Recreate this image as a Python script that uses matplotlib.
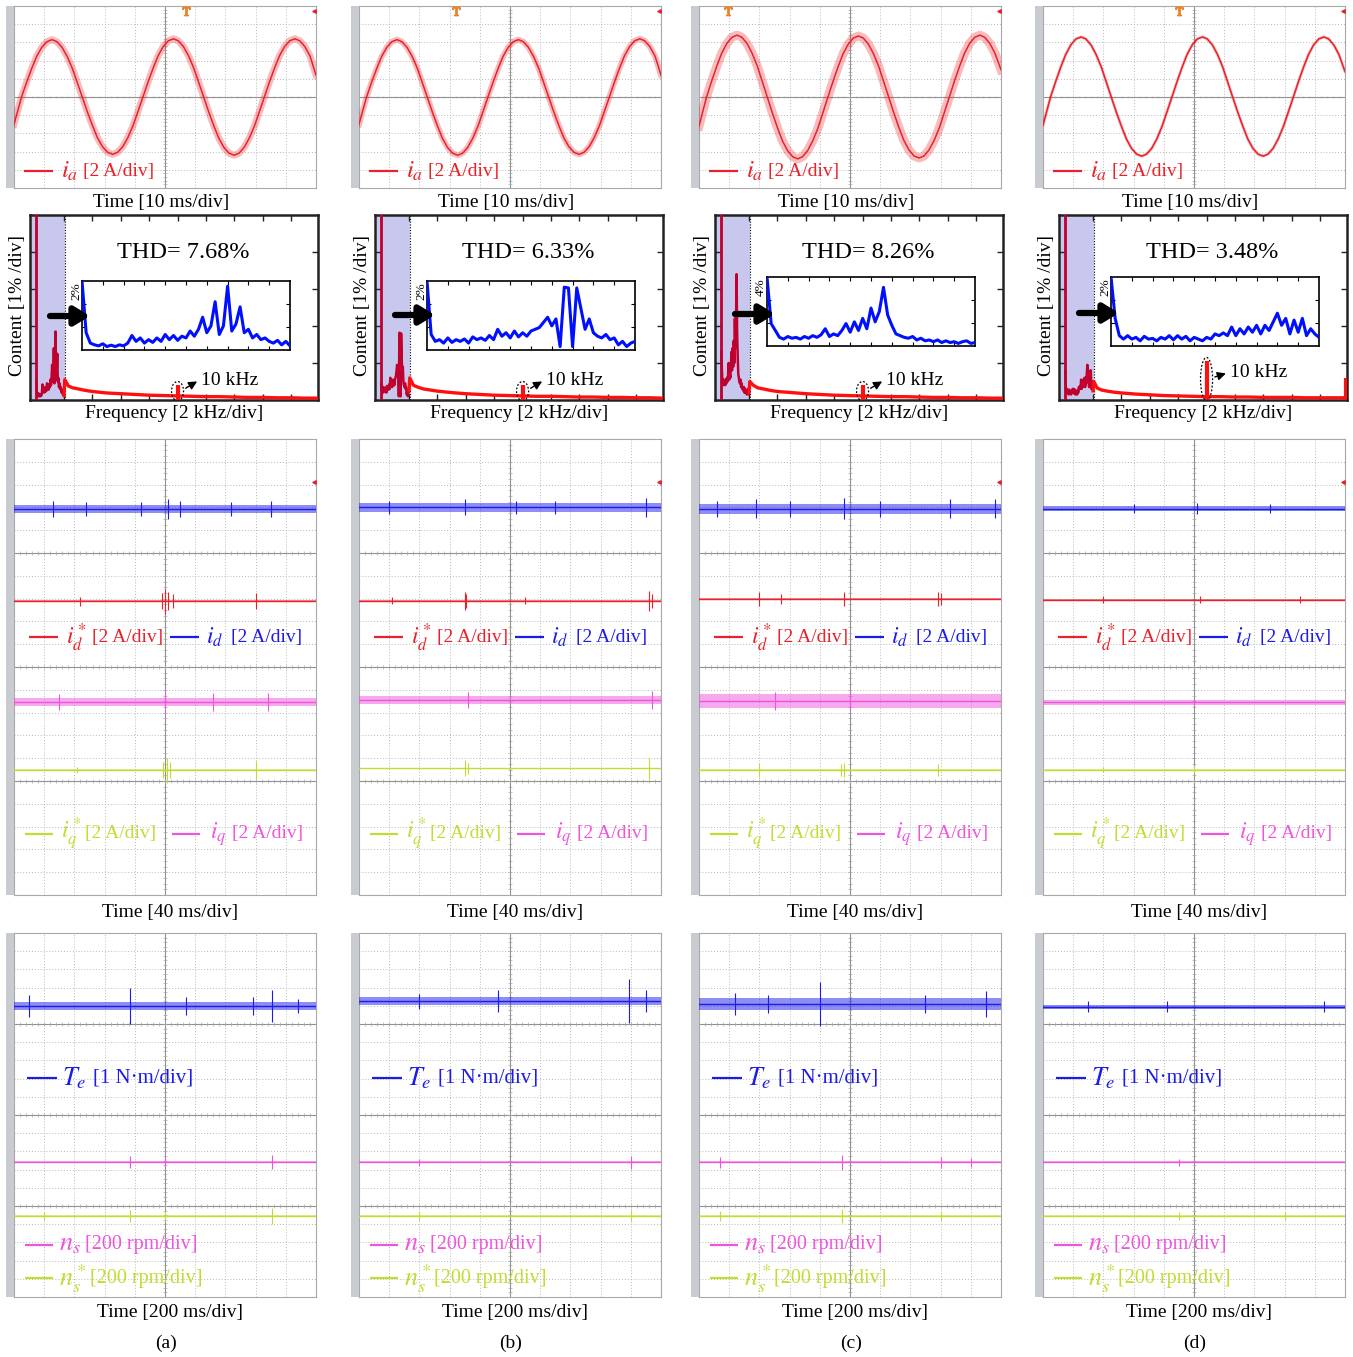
import matplotlib
matplotlib.use('Agg')
import matplotlib.pyplot as plt
from matplotlib.patches import Rectangle, Ellipse
import numpy as np

plt.rcParams['font.family'] = ['Liberation Serif', 'DejaVu Serif']
plt.rcParams['mathtext.fontset'] = 'stix'

W, H = 1353, 1357
fig = plt.figure(figsize=(W / 100, H / 100), dpi=100)
fig.patch.set_facecolor('white')

# ---------------- data ----------------
panel_labels = ['(a)', '(b)', '(c)', '(d)']
thd_values = ['7.68', '6.33', '8.26', '3.48']
inset_top_pct = [2, 2, 4, 2]

# phase current ia [div] read along time [div]
ia_t = [0, 0.25, 0.42, 0.59, 0.75, 0.92, 1.09, 1.26, 1.42, 1.59, 1.76, 1.93, 2.09, 2.26,
        2.43, 2.6, 2.76, 2.93, 3.1, 3.27, 3.43, 3.6, 3.77, 3.94, 4.1, 4.27, 4.44, 4.61,
        4.77, 4.94, 5.11, 5.28, 5.44, 5.61, 5.78, 5.95, 6.11, 6.28, 6.45, 6.62, 6.78,
        6.95, 7.12, 7.29, 7.45, 7.62, 7.79, 7.96, 8.12, 8.29, 8.46, 8.63, 8.79, 8.96,
        9.13, 9.3, 9.46, 9.63, 9.8, 10.0]
ia_a = [-1.5, 0, 0.82, 1.58, 2.23, 2.73, 3.04, 3.15, 3.04, 2.73, 2.23, 1.58, 0.82, 0,
        -0.82, -1.58, -2.23, -2.73, -3.04, -3.15, -3.04, -2.73, -2.23, -1.58, -0.82, 0,
        0.83, 1.6, 2.26, 2.77, 3.09, 3.2, 3.09, 2.77, 2.26, 1.6, 0.83, 0, -0.83, -1.6,
        -2.26, -2.77, -3.09, -3.2, -3.09, -2.77, -2.26, -1.6, -0.83, 0, 0.83, 1.6, 2.26,
        2.77, 3.09, 3.2, 3.09, 2.77, 2.26, 1.2]
ia_b = [-1.5, 0, 0.82, 1.58, 2.23, 2.73, 3.04, 3.15, 3.04, 2.73, 2.23, 1.58, 0.82, 0,
        -0.83, -1.6, -2.26, -2.77, -3.09, -3.2, -3.09, -2.77, -2.26, -1.6, -0.83, 0,
        0.82, 1.58, 2.23, 2.73, 3.04, 3.15, 3.04, 2.73, 2.23, 1.58, 0.82, 0, -0.82, -1.58,
        -2.23, -2.73, -3.04, -3.15, -3.04, -2.73, -2.23, -1.58, -0.82, 0, 0.83, 1.6, 2.26,
        2.77, 3.09, 3.2, 3.09, 2.77, 2.26, 1.2]
ia_c = [-1.6, 0, 0.88, 1.7, 2.4, 2.94, 3.28, 3.4, 3.28, 2.94, 2.4, 1.7, 0.88, 0,
        -0.88, -1.7, -2.4, -2.94, -3.28, -3.4, -3.28, -2.94, -2.4, -1.7, -0.88, 0,
        0.87, 1.68, 2.37, 2.9, 3.24, 3.35, 3.24, 2.9, 2.37, 1.68, 0.87, 0, -0.87, -1.68,
        -2.37, -2.9, -3.24, -3.35, -3.24, -2.9, -2.37, -1.68, -0.87, 0, 0.88, 1.7, 2.4,
        2.94, 3.28, 3.4, 3.28, 2.94, 2.4, 1.5]
ia_d = [-1.55, 0, 0.85, 1.65, 2.33, 2.86, 3.19, 3.3, 3.19, 2.86, 2.33, 1.65, 0.85, 0,
        -0.84, -1.62, -2.3, -2.82, -3.14, -3.25, -3.14, -2.82, -2.3, -1.62, -0.84, 0,
        0.85, 1.65, 2.33, 2.86, 3.19, 3.3, 3.19, 2.86, 2.33, 1.65, 0.85, 0, -0.84, -1.62,
        -2.3, -2.82, -3.14, -3.25, -3.14, -2.82, -2.3, -1.62, -0.84, 0, 0.85, 1.65, 2.33,
        2.86, 3.19, 3.3, 3.19, 2.86, 2.33, 1.4]
ia_cols = [ia_a, ia_b, ia_c, ia_d]
ia_ripple_px = [7, 6, 9, 3]

# harmonic spectrum 0-2 kHz (inset, %), 0.04 kHz bins
inset_a = [2.0, 0.5, 0.2, 0.15, 0.12, 0.18, 0.1, 0.14, 0.1, 0.15, 0.12, 0.2, 0.42, 0.25,
           0.35, 0.2, 0.3, 0.22, 0.35, 0.25, 0.45, 0.3, 0.42, 0.28, 0.4, 0.35, 0.55,
           0.4, 0.6, 0.95, 0.5, 0.7, 1.4, 0.45, 0.7, 1.85, 0.55, 0.75, 1.25, 0.5, 0.6,
           0.35, 0.45, 0.3, 0.35, 0.25, 0.2, 0.28, 0.15, 0.25, 0.12]
inset_b = [2.0, 0.45, 0.25, 0.3, 0.2, 0.35, 0.22, 0.3, 0.25, 0.32, 0.2, 0.38, 0.3, 0.35,
           0.28, 0.42, 0.3, 0.6, 0.4, 0.5, 0.35, 0.55, 0.38, 0.5, 0.4, 0.55, 0.6, 0.65,
           0.8, 0.95, 0.7, 0.9, 0.1, 1.82, 1.8, 0.1, 1.8, 1.2, 0.6, 0.9, 0.5, 0.4, 0.35,
           0.45, 0.3, 0.35, 0.15, 0.25, 0.1, 0.2, 0.25]
inset_c = [4.0, 1.3, 0.9, 0.5, 0.4, 0.55, 0.45, 0.5, 0.4, 0.55, 0.45, 0.6, 0.5, 0.65,
           1.0, 0.55, 0.7, 0.6, 0.9, 1.3, 0.8, 1.4, 0.9, 1.6, 1.0, 2.2, 1.4, 2.0, 3.4,
           1.8, 1.2, 0.7, 0.6, 0.5, 0.45, 0.55, 0.35, 0.45, 0.3, 0.35, 0.25, 0.35, 0.2,
           0.3, 0.2, 0.25, 0.15, 0.25, 0.3, 0.15, 0.2]
inset_d = [2.0, 0.8, 0.3, 0.2, 0.3, 0.2, 0.25, 0.15, 0.28, 0.2, 0.22, 0.15, 0.25, 0.2,
           0.3, 0.18, 0.3, 0.2, 0.28, 0.15, 0.25, 0.2, 0.15, 0.25, 0.2, 0.35, 0.3, 0.38,
           0.3, 0.55, 0.3, 0.5, 0.35, 0.55, 0.4, 0.6, 0.35, 0.6, 0.45, 0.7, 0.95, 0.6,
           0.8, 0.35, 0.75, 0.4, 0.8, 0.3, 0.5, 0.35, 0.25]
inset_cols = [inset_a, inset_b, inset_c, inset_d]
inset_f = np.arange(len(inset_a)) * 0.04  # kHz bins

# spectrum beyond 2 kHz (%)
tail_f = [2.05, 2.3, 2.6, 3, 3.5, 4, 5, 6, 7, 8, 9, 10, 11, 12, 13, 14, 15, 16, 17, 18, 19, 19.9]
tail_a = [0.55, 0.38, 0.33, 0.3, 0.26, 0.23, 0.19, 0.17, 0.15, 0.13, 0.12, 0.11, 0.1, 0.09,
          0.09, 0.08, 0.07, 0.07, 0.06, 0.06, 0.05, 0.05]
tail_b = [0.6, 0.4, 0.35, 0.3, 0.27, 0.24, 0.2, 0.17, 0.15, 0.13, 0.12, 0.11, 0.1, 0.1,
          0.09, 0.08, 0.08, 0.07, 0.07, 0.06, 0.06, 0.05]
tail_c = [0.5, 0.4, 0.33, 0.3, 0.26, 0.23, 0.2, 0.17, 0.15, 0.13, 0.12, 0.11, 0.1, 0.09,
          0.09, 0.08, 0.07, 0.07, 0.06, 0.06, 0.05, 0.05]
tail_d = [0.5, 0.32, 0.27, 0.24, 0.21, 0.19, 0.16, 0.14, 0.12, 0.11, 0.1, 0.09, 0.09, 0.08,
          0.08, 0.07, 0.07, 0.07, 0.06, 0.06, 0.06, 0.06]
tail_cols = [tail_a, tail_b, tail_c, tail_d]
fundamental_pct = 100.0
switch_spikes = [[(10.0, 0.4)], [(10.0, 0.4)], [(10.0, 0.4)], [(10.0, 1.05), (19.85, 0.6)]]

# dq currents, torque, speed: levels [div], noise half-band [div], spikes (x, amp) [div]
id_level = [6.93, 7.0, 6.95, 6.95]
idref_level = [2.89, 2.9, 2.98, 2.95]
iq_level = [-1.53, -1.45, -1.5, -1.55]
iqref_level = [-4.52, -4.45, -4.52, -4.5]
id_noise = [0.18, 0.18, 0.22, 0.09]
iq_noise = [0.18, 0.16, 0.3, 0.1]
ref_noise = [0.04, 0.04, 0.04, 0.04]
id_spikes = [[(1.3, 0.35), (2.4, 0.3), (4.2, 0.3), (5.1, 0.45), (5.5, 0.35), (7.2, 0.3), (8.5, 0.35)],
             [(1.0, 0.3), (3.5, 0.35), (5.2, 0.3), (6.5, 0.3), (9.5, 0.4)],
             [(0.6, 0.35), (1.9, 0.4), (3.0, 0.35), (4.8, 0.45), (6.0, 0.35), (8.3, 0.4), (9.8, 0.4)],
             [(3.0, 0.2), (5.1, 0.25), (7.5, 0.2)]]
idref_spikes = [[(2.2, 0.2), (4.9, 0.35), (5.0, 0.55), (5.1, 0.4), (5.25, 0.3), (8.0, 0.35)],
                [(1.1, 0.15), (3.5, 0.4), (3.55, 0.3), (5.5, 0.15), (9.6, 0.45), (9.7, 0.3)],
                [(2.0, 0.3), (2.7, 0.2), (4.8, 0.3), (7.9, 0.3), (8.0, 0.25)],
                [(2.0, 0.15), (5.2, 0.15), (8.5, 0.15)]]
iq_spikes = [[(1.5, 0.35), (5.0, 0.45), (6.6, 0.4), (8.4, 0.4)],
             [(3.6, 0.35), (9.7, 0.4)],
             [(2.5, 0.4), (5.0, 0.4)],
             [(5.0, 0.2)]]
iqref_spikes = [[(2.1, 0.15), (4.95, 0.35), (5.05, 0.55), (5.15, 0.35), (8.0, 0.4)],
                [(3.5, 0.35), (3.6, 0.25), (9.6, 0.45)],
                [(2.0, 0.3), (4.7, 0.25), (4.8, 0.3), (7.9, 0.25)],
                [(2.0, 0.12), (5.0, 0.15)]]
te_level = [5.99, 6.25, 6.1, 5.95]
ns_level = [-2.58, -2.6, -2.6, -2.6]
nsref_level = [-5.55, -5.55, -5.55, -5.55]
te_noise = [0.2, 0.22, 0.32, 0.12]
ns_noise = [0.05, 0.05, 0.05, 0.05]
te_spikes = [[(0.5, 0.6), (3.85, 1.0), (5.7, 0.5), (7.9, 0.5), (8.55, 0.9), (9.4, 0.4)],
             [(2.0, 0.4), (4.6, 0.6), (8.95, 1.2), (9.5, 0.6)],
             [(1.2, 0.6), (2.3, 0.5), (4.0, 1.2), (7.5, 0.5), (9.5, 0.7)],
             [(1.5, 0.3), (4.1, 0.3), (9.3, 0.3)]]
ns_spikes = [[(3.85, 0.35), (5.0, 0.25), (8.55, 0.4)],
             [(2.0, 0.2), (9.0, 0.35)],
             [(0.7, 0.3), (4.75, 0.4), (8.0, 0.3), (9.0, 0.25)],
             [(4.5, 0.2)]]
nsref_spikes = [[(1.0, 0.2), (3.85, 0.35), (5.0, 0.3), (8.55, 0.45)],
                [(2.0, 0.25), (9.0, 0.35)],
                [(0.7, 0.3), (4.75, 0.4), (8.0, 0.3)],
                [(4.5, 0.2), (8.0, 0.2)]]
trigger_pos = [5.7, 3.2, 0.97, 4.5]

# ---------------- styles ----------------
RED = '#e8222a'
BLUE = '#1c1ce8'
PINK = '#ee55dd'
YEL = '#c2dc32'
SPEC_RED = '#ff1010'
CRIMSON = '#c0002e'
SHADE = '#c8c8ee'
GRID = '#b8b8b8'
CENTER = '#909090'

col_left = [6, 351, 691, 1035]
PX_PT = 0.72


def px_axes(x0, y0, x1, y1):
    return fig.add_axes([x0 / W, 1 - y1 / H, (x1 - x0) / W, (y1 - y0) / H])


def ftext(x, y, s, **kw):
    fig.text(x / W, 1 - y / H, s, **kw)


def scope(x0, y0, x1, y1, ndiv_y, solid_y):
    fig.add_artist(Rectangle((x0 / W, 1 - y1 / H), 8 / W, (y1 - y0) / H,
                             transform=fig.transFigure, facecolor='#c8ccd0',
                             edgecolor='none', zorder=0.5))
    ax = px_axes(x0 + 8, y0, x1, y1)
    ax.set_xlim(0, 10)
    ax.set_ylim(-ndiv_y / 2, ndiv_y / 2)
    ax.set_xticks([])
    ax.set_yticks([])
    for s in ax.spines.values():
        s.set_color('#a8a8a8')
        s.set_linewidth(0.8)
    for i in range(1, 10):
        if i == 5:
            ax.axvline(i, color=CENTER, lw=0.8, zorder=1)
        else:
            ax.axvline(i, color=GRID, lw=0.7, ls=(0, (1, 2)), zorder=1)
    for j in range(-ndiv_y // 2 + 1, ndiv_y // 2):
        if j in solid_y:
            ax.axhline(j, color=CENTER, lw=0.8, zorder=1)
        else:
            ax.axhline(j, color=GRID, lw=0.7, ls=(0, (1, 2)), zorder=1)
    mx = np.arange(0, 10.01, 0.2)
    for yc in solid_y:
        ax.vlines(mx, yc - 0.05 * ndiv_y / 10, yc + 0.05 * ndiv_y / 10, color='#a8a8a8',
                  lw=0.5, zorder=1)
    my = np.arange(-ndiv_y / 2, ndiv_y / 2 + 0.01, 0.2 if ndiv_y == 10 else 0.25)
    ax.hlines(my, 4.93, 5.07, color='#a8a8a8', lw=0.5, zorder=1)
    return ax


def flat_trace(ax, level, noise, spikes, color, lw_core=1.0):
    ax.axhspan(level - noise, level + noise, color=color, alpha=0.5, lw=0, zorder=3)
    ax.axhline(level, color=color, lw=lw_core, zorder=4)
    if spikes:
        xs = [p[0] for p in spikes]
        am = np.array([p[1] for p in spikes])
        ax.vlines(xs, level - am, level + am, color=color, lw=0.8, zorder=4)


def legend_item(ax, x_line, y, color, sym, sym_x, txt, txt_x, sym_size=17, txt_size=14):
    ax.plot(x_line, [y, y], color=color, lw=1.6, zorder=5, solid_capstyle='butt')
    ax.text(sym_x, y, sym, color=color, fontsize=sym_size, va='center', ha='left', zorder=6)
    ax.text(txt_x, y, txt, color=color, fontsize=txt_size, va='center', ha='left', zorder=6)


for c in range(4):
    L = col_left[c]

    # ---------- row 1: phase current ----------
    ax = scope(L, 6, L + 310, 188, 10, [0])
    ax.plot(ia_t, ia_cols[c], color=RED, lw=ia_ripple_px[c] * PX_PT, alpha=0.3,
            solid_joinstyle='round', zorder=3)
    ax.plot(ia_t, ia_cols[c], color=RED, lw=1.1, zorder=4, solid_joinstyle='round')
    legend_item(ax, [0.33, 1.29], -4.07, RED, r'$i_a$', 1.55, '[2 A/div]', 2.27,
                sym_size=18, txt_size=14)
    ax.plot([trigger_pos[c]], [4.75], marker='$\\mathrm{T}$', color='#f08020', ms=6,
            clip_on=False, zorder=6)
    ax.plot([9.95], [4.7], marker='<', color=RED, ms=2.5, clip_on=False, zorder=6)
    ax.plot([-0.12], [0], marker='>', color=RED, ms=3, clip_on=False, zorder=6)
    ftext(L + 155, 202, 'Time [10 ms/div]', fontsize=14, ha='center', va='center')

    # ---------- row 2: spectrum ----------
    sx = px_axes(L + 24, 215, L + 312, 400)
    sx.set_xlim(-0.4, 19.9)
    sx.set_ylim(0, 5)
    sx.axvspan(-0.4, 2.05, color=SHADE, lw=0, zorder=0)
    sx.axvline(2.05, color='k', lw=0.8, ls=(0, (1, 1.5)), zorder=1)
    sx.vlines([0.0], 0, fundamental_pct, color=CRIMSON, lw=2, zorder=3)
    sx.plot(inset_f[1:], inset_cols[c][1:], color=CRIMSON, lw=1.8, zorder=3)
    sx.plot(np.concatenate([inset_f[-1:], tail_f]),
            np.concatenate([inset_cols[c][-1:], tail_cols[c]]),
            color=SPEC_RED, lw=2.4, zorder=3)
    for (fs, hs) in switch_spikes[c]:
        sx.vlines([fs], 0, hs, color=SPEC_RED, lw=3, zorder=3)
    fsw, hsw = switch_spikes[c][0]
    sx.add_patch(Ellipse((fsw, hsw / 2 + 0.04), 0.85, hsw + 0.12, fill=False, ec='k',
                         lw=0.9, ls=(0, (1.5, 1.5)), zorder=4))
    ty = hsw + 0.14 if c < 3 else 0.74
    sx.annotate('', xy=(11.55, ty), xytext=(10.4, hsw * 0.7 if c < 3 else 0.6),
                arrowprops=dict(arrowstyle='-|>,head_length=0.5,head_width=0.25',
                                color='k', lw=1.0), zorder=5)
    sx.text(11.65, ty, '10 kHz', fontsize=14, ha='left', va='center', zorder=5)
    sx.set_xticks(np.arange(0, 19, 2))
    sx.set_yticks([1, 2, 3, 4])
    sx.tick_params(direction='in', length=4, width=1.0, top=True, right=True,
                   labelbottom=False, labelleft=False, color='#222222')
    for s in sx.spines.values():
        s.set_linewidth(1.8)
        s.set_color('#222222')
    ftext(L + 177, 253, 'THD= ' + thd_values[c] + '%', fontsize=17.5, ha='center', va='center')
    ftext(L + 11.5, 305, 'Content [1% /div]', fontsize=14, rotation=90, ha='center', va='center')
    ftext(L + 168, 413, 'Frequency [2 kHz/div]', fontsize=14, ha='center', va='center')

    # inset
    ins_y0 = 281 if c < 2 else 277
    ix = px_axes(L + 76, ins_y0, L + 284, ins_y0 + 69)
    ix.plot(inset_f, inset_cols[c], color='#0010ff', lw=2.2, zorder=3)
    ix.set_xlim(0, 2.0)
    ix.set_ylim(0, inset_top_pct[c])
    ix.set_xticks(np.arange(0.2, 2.0, 0.2))
    ix.set_yticks([inset_top_pct[c] / 3, 2 * inset_top_pct[c] / 3])
    ix.tick_params(direction='in', length=3, width=0.8, top=True, right=True,
                   labelbottom=False, labelleft=False)
    for s in ix.spines.values():
        s.set_linewidth(1.2)
    ftext(L + 70, ins_y0 + 1, '%d%%' % inset_top_pct[c], fontsize=9.5, rotation=90,
          ha='center', va='top')

    # ---------- row 3: dq currents ----------
    ax = scope(L, 439, L + 310, 895, 20, [5, 0, -5])
    flat_trace(ax, id_level[c], id_noise[c], id_spikes[c], BLUE)
    flat_trace(ax, idref_level[c], ref_noise[c], idref_spikes[c], RED, lw_core=1.0)
    flat_trace(ax, iq_level[c], iq_noise[c], iq_spikes[c], PINK)
    flat_trace(ax, iqref_level[c], ref_noise[c], iqref_spikes[c], YEL, lw_core=1.0)
    legend_item(ax, [0.5, 1.46], 1.3, RED, r'$i_d^*$', 1.72, '[2 A/div]', 2.58)
    legend_item(ax, [5.17, 6.13], 1.3, BLUE, r'$i_d$', 6.36, '[2 A/div]', 7.19)
    legend_item(ax, [0.36, 1.29], -7.32, YEL, r'$i_q^*$', 1.56, '[2 A/div]', 2.35)
    legend_item(ax, [5.23, 6.16], -7.32, PINK, r'$i_q$', 6.5, '[2 A/div]', 7.22)
    ax.plot([-0.12], [id_level[c]], marker='>', mfc='none', mec=BLUE, ms=3, clip_on=False, zorder=6)
    ax.plot([-0.12], [idref_level[c]], marker='>', color=RED, ms=3, clip_on=False, zorder=6)
    ax.plot([-0.12], [-5], marker='>', color=PINK, ms=3, clip_on=False, zorder=6)
    ax.plot([-0.12], [-7.94], marker='>', color=YEL, ms=3, clip_on=False, zorder=6)
    ax.plot([9.93], [8.1], marker='<', color=RED, ms=2.5, clip_on=False, zorder=6)
    ftext(L + 164, 912, 'Time [40 ms/div]', fontsize=14, ha='center', va='center')

    # ---------- row 4: torque and speed ----------
    ax = scope(L, 933, L + 310, 1297, 20, [5, 0, -5])
    flat_trace(ax, te_level[c], te_noise[c], te_spikes[c], BLUE)
    flat_trace(ax, ns_level[c], ns_noise[c], ns_spikes[c], PINK)
    flat_trace(ax, nsref_level[c], ns_noise[c], nsref_spikes[c], YEL)
    legend_item(ax, [0.43, 1.42], 2.03, BLUE, r'$T_e$', 1.6, '[1 N·m/div]', 2.62,
                sym_size=19, txt_size=15)
    legend_item(ax, [0.36, 1.29], -7.14, PINK, r'$n_s$', 1.5, '[200 rpm/div]', 2.35,
                sym_size=19, txt_size=14.5)
    legend_item(ax, [0.36, 1.29], -8.96, YEL, r'$n_s^*$', 1.5, '[200 rpm/div]', 2.5,
                sym_size=19, txt_size=14.5)
    ax.plot([-0.12], [2.03], marker='>', color=BLUE, ms=3, clip_on=False, zorder=6)
    ax.plot([-0.12], [-5], marker='>', mfc='none', mec=PINK, ms=3, clip_on=False, zorder=6)
    ax.plot([-0.12], [-7.97], marker='>', color=YEL, ms=3, clip_on=False, zorder=6)
    ftext(L + 164, 1313, 'Time [200 ms/div]', fontsize=14, ha='center', va='center')
    ftext(L + 160, 1343, panel_labels[c], fontsize=14, ha='center', va='center')

# overlay for the pointing arrows
ov = fig.add_axes([0, 0, 1, 1])
ov.set_xlim(0, W)
ov.set_ylim(H, 0)
ov.axis('off')
ov.patch.set_alpha(0)
arrow_y = [316, 315, 314, 313]
for c in range(4):
    L = col_left[c]
    ov.annotate('', xy=(L + 84, arrow_y[c]), xytext=(L + 44, arrow_y[c]),
                arrowprops=dict(arrowstyle='-|>,head_length=0.9,head_width=0.55',
                                color='k', lw=4.5, shrinkA=0, shrinkB=0))

fig.savefig('out.png', dpi=100, facecolor='white')
